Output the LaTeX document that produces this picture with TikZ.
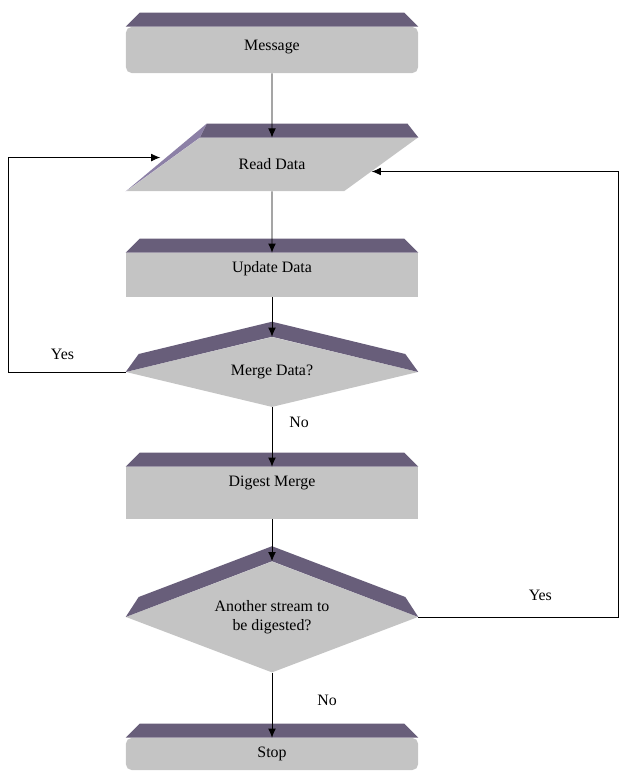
\documentclass[tikz,border=0pt]{standalone}
\usepackage{fontspec}
\setmainfont{Liberation Serif}
\usepackage{tikz}
\usetikzlibrary{shapes.geometric,arrows.meta}
\definecolor{bandpurple}{RGB}{104,94,122}
\definecolor{edgepurple}{RGB}{140,128,166}
\definecolor{facegray}{RGB}{196,196,196}

\begin{document}
\begin{tikzpicture}[x=0.025cm, y=-0.025cm,
  font=\fontsize{11.3}{13.5}\selectfont,
  box/.style={rectangle, fill=facegray, minimum width=7.3cm, inner sep=2pt},
  io/.style={trapezium, trapezium left angle=36, trapezium right angle=144,
    trapezium stretches body, fill=facegray, minimum width=7.275cm, inner ysep=15pt},
  decision/.style={diamond, fill=facegray, minimum width=7.3cm, align=center, inner sep=1pt},
  bevel/.style={fill=bandpurple},
  flow/.style={-{Latex[length=6.5pt,width=5.5pt]}, line width=0.6pt},
  lbl/.style={inner sep=2pt}]
\useasboundingbox (0,0) rectangle (620,771);

\node[box, rounded corners=4pt, minimum height=1.15cm, text depth=6.7pt] (msg) at (272,50) {Message};
\node[io] (rd) at (272,164.5) {Read Data};
\node[box, minimum height=1.1cm, text depth=12pt] (upd) at (272,275) {Update Data};
\node[decision, aspect=4, minimum height=1.75cm] (mrg) at (272,372) {Merge Data?};
\node[box, minimum height=1.3cm, text depth=16.6pt] (dig) at (272,493) {Digest Merge};
\node[decision, aspect=2.6, minimum height=2.775cm] (ano) at (272,617) {Another stream to\\be digested?};
\node[box, rounded corners=4pt, minimum height=0.8cm] (stp) at (272,754) {Stop};

% bevels on top of the boxes
\foreach \n in {msg,upd,dig,stp}
  \fill[bevel] (\n.north west) -- ++(14,-14) -- ([shift={(-14,-14)}]\n.north east) -- (\n.north east) -- cycle;
\foreach \n/\d in {mrg/18,ano/20}
  \fill[bevel] (\n.west) -- ++(13,-\d) -- ([shift={(0,-15)}]\n.north) -- ([shift={(-13,-\d)}]\n.east) -- (\n.east) -- (\n.north) -- cycle;
\fill[bevel] (rd.top left corner) -- ++(7,-14) -- ([shift={(-11,-14)}]rd.top right corner) -- (rd.top right corner) -- cycle;
\fill[edgepurple] (rd.top left corner) -- ++(7,-14) -- (rd.bottom left corner) -- cycle;

% connectors
\draw[flow] (msg) -- (rd);
\draw[flow] (rd) -- (upd);
\draw[flow] (upd) -- (mrg);
\draw[flow] (mrg) -- node[lbl, pos=0.25, right=10pt] {No} (dig);
\draw[flow] (dig) -- (ano);
\draw[flow] (ano) -- node[lbl, pos=0.42, right=30pt] {No} (stp);
\draw[flow] (mrg.west) -- node[lbl, pos=0.54, above=6.6pt] {Yes} ++(-117,0) |- ([xshift=-0.3cm]rd.176);
\draw[flow] (ano.east) -- node[lbl, pos=0.61, above=9.5pt] {Yes} ++(200,0) |- (rd.-4);
\end{tikzpicture}
\end{document}
